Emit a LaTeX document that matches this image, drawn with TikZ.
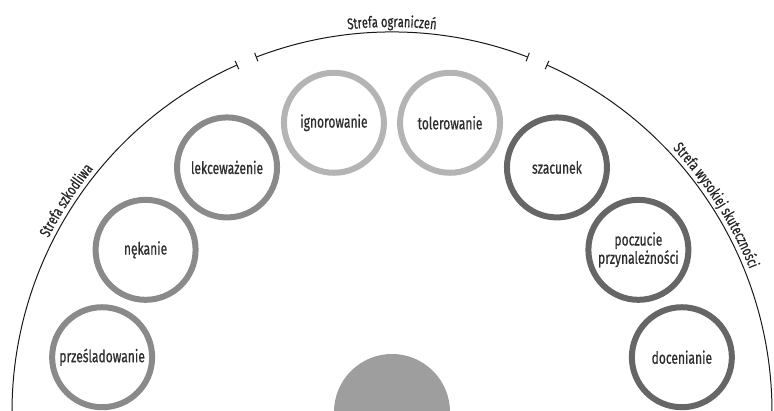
\documentclass[tikz,border=0pt]{standalone}
\usepackage{fontspec}
\setmainfont{Fira Sans}[FakeStretch=0.71, FakeBold=0.6]
\usepackage{xcolor}
\usetikzlibrary{arrows.meta, decorations.text}

\definecolor{ringmid}{HTML}{8A8A8A}
\definecolor{ringlight}{HTML}{B4B4B4}
\definecolor{ringdark}{HTML}{666666}
\definecolor{hubgray}{HTML}{9E9E9E}
\definecolor{inktext}{HTML}{2E2E2E}

\newcommand{\zonefont}{\fontsize{15.5}{16}\selectfont\color{black!85}}

\begin{document}
\begin{tikzpicture}[x=1pt, y=1pt,
  every node/.style={font=\fontsize{17}{16.5}\selectfont, text=inktext},
  ring/.style={circle, minimum size=100pt, inner sep=0pt, line width=6pt,
               align=center, fill=white},
  harm/.style={ring, draw=ringmid},
  limit/.style={ring, draw=ringlight},
  good/.style={ring, draw=ringdark},
  zone/.style={draw=black!90, line width=1pt},
  zonelabel/.style={decorate, decoration={text along path, text align=center,
               raise=5pt, text={|\zonefont|#1}}}
]

  % ── Frame ─────────────────────────────────────────────────────
  \useasboundingbox (-392,1) rectangle (382,412);

  % ── Zone arcs ─────────────────────────────────────────────────
  \draw[zone, -{Bar[width=9pt]}] (180:380) arc[start angle=180, end angle=114, radius=380];
  \draw[zone, {Bar[width=9pt]}-{Bar[width=9pt]}] (111:380) arc[start angle=111, end angle=69, radius=380];
  \draw[zone, {Bar[width=9pt]}-] (66:380) arc[start angle=66, end angle=0, radius=380];

  % ── Zone labels ───────────────────────────────────────────────
  \path[zonelabel={Strefa szkodliwa}] (162:380) arc[start angle=162, end angle=132, radius=380];
  \path[zonelabel={Strefa ograniczeń}] (100:380) arc[start angle=100, end angle=80, radius=380];
  \path[zonelabel={Strefa wysokiej skuteczności}] (52:380) arc[start angle=52, end angle=13, radius=380];

  % ── Hub ───────────────────────────────────────────────────────
  \node[circle, fill=hubgray, minimum size=116pt, inner sep=0pt] (hub) at (0,0) {};

  % ── Harmful zone ──────────────────────────────────────────────
  \node[harm] (przesl) at (169.3:295) {prześladowanie};
  \node[harm] (nekanie) at (146.65:295) {nękanie};
  \node[harm] (lekcew) at (124:295) {lekceważenie};

  % ── Limiting zone ─────────────────────────────────────────────
  \node[limit] (ignor) at (101.35:295) {ignorowanie};
  \node[limit] (toler) at (78.65:295) {tolerowanie};

  % ── Effective zone ────────────────────────────────────────────
  \node[good] (szac) at (56:295) {szacunek};
  \node[good] (przyn) at (33.35:295) {poczucie\\przynależności};
  \node[good] (docen) at (10.7:295) {docenianie};

\end{tikzpicture}
\end{document}
